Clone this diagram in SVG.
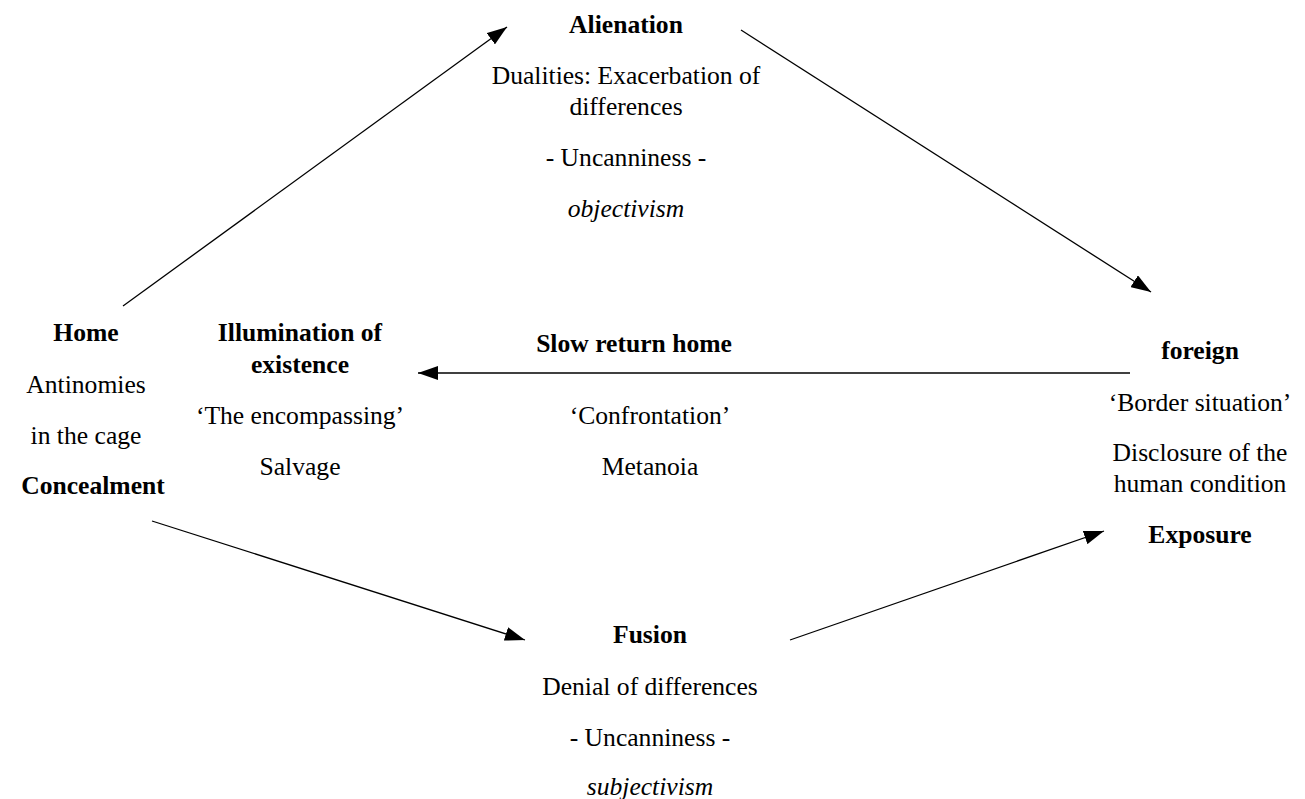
<svg xmlns="http://www.w3.org/2000/svg" width="1305" height="799" viewBox="0 0 1305 799">
<style>
text{font-family:"Liberation Serif","Times New Roman",serif;font-size:25.6px;fill:#000;text-anchor:middle}
.b{font-weight:bold}
.i{font-style:italic}
.c{stroke:#000;stroke-width:1.3;fill:none;marker-end:url(#ah)}
</style>
<defs>
<marker id="ah" viewBox="0 0 20 14" refX="20" refY="7" markerWidth="20" markerHeight="14" markerUnits="userSpaceOnUse" orient="auto">
<path d="M0,0 L20,7 L0,14 Z" fill="#000"/>
</marker>
</defs>
<rect width="1305" height="799" fill="#fff"/>
<g id="connectors">
<line class="c" x1="123" y1="306" x2="507" y2="27"/>
<line class="c" x1="741" y1="30" x2="1151" y2="292"/>
<line class="c" x1="1130" y1="373" x2="418" y2="373"/>
<line class="c" x1="152" y1="521" x2="525" y2="640"/>
<line class="c" x1="790" y1="640" x2="1104" y2="531"/>
</g>
<g id="alienation">
<text class="b" x="626" y="33">Alienation</text>
<text x="626" y="84">Dualities: Exacerbation of</text>
<text x="626" y="115">differences</text>
<text x="626" y="166">- Uncanniness -</text>
<text class="i" x="626" y="217">objectivism</text>
</g>
<g id="home">
<text class="b" x="86" y="341">Home</text>
<text x="86" y="393">Antinomies</text>
<text x="86" y="444">in the cage</text>
<text class="b" x="93" y="494">Concealment</text>
</g>
<g id="illumination">
<text class="b" x="300" y="341">Illumination of</text>
<text class="b" x="300" y="373">existence</text>
<text x="300" y="424">‘The encompassing’</text>
<text x="300" y="475">Salvage</text>
</g>
<g id="slow-return">
<text class="b" x="634" y="352">Slow return home</text>
<text x="650" y="424">‘Confrontation’</text>
<text x="650" y="475">Metanoia</text>
</g>
<g id="foreign">
<text class="b" x="1200" y="359">foreign</text>
<text x="1200" y="411">‘Border situation’</text>
<text x="1200" y="461">Disclosure of the</text>
<text x="1200" y="492">human condition</text>
<text class="b" x="1200" y="543">Exposure</text>
</g>
<g id="fusion">
<text class="b" x="650" y="643">Fusion</text>
<text x="650" y="695">Denial of differences</text>
<text x="650" y="746">- Uncanniness -</text>
<text class="i" x="650" y="795">subjectivism</text>
</g>
</svg>
